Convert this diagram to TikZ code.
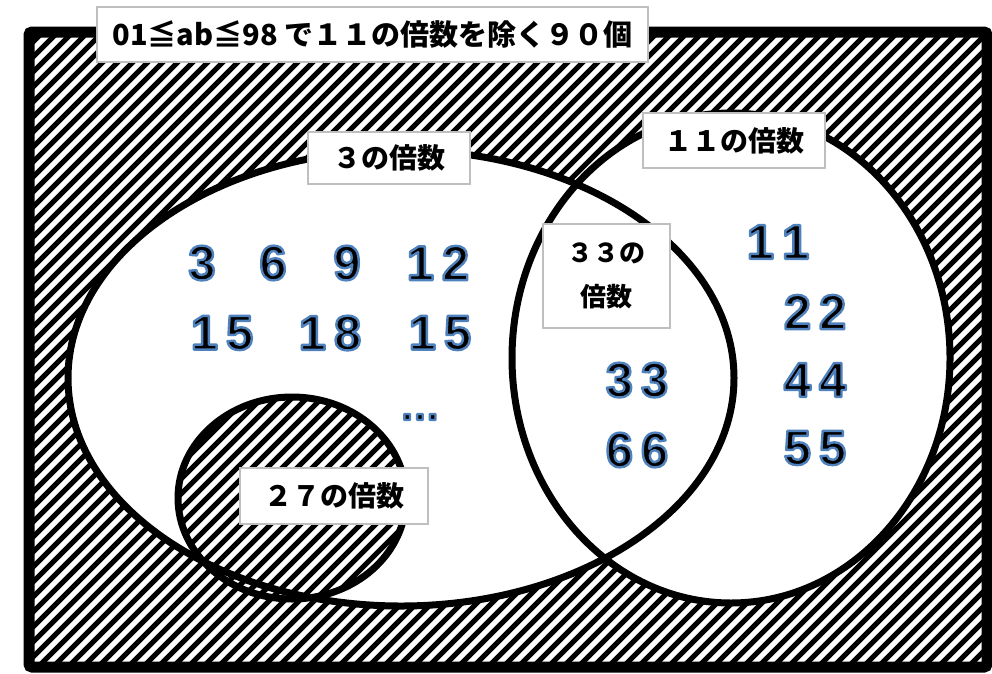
\documentclass[tikz,border=0pt]{standalone}
\usepackage{fontspec}
\setmainfont{Liberation Sans}
\newfontfamily\jp{Noto Sans CJK JP}
\definecolor{nblue}{RGB}{79,129,189}
\definecolor{boxgray}{RGB}{191,191,191}
\newcommand\otx[1]{%
  \special{pdf:literal direct 2 Tr 2.4 w 1 j 0.31 0.506 0.741 RG}%
  #1%
  \special{pdf:literal direct 0 Tr 0 0 0 RG 0 j 0.4 w}}
\newcommand\ls{\kern8pt}
\tikzset{
  hatchline/.style={line width=5pt, black},
  vline/.style={line width=7pt, black},
  lbl/.style={draw=boxgray, line width=1.8pt, fill=white, inner sep=0pt,
    font=\jp\bfseries\fontsize{28}{30}\selectfont},
  num/.style={inner sep=0pt, font=\bfseries\fontsize{49}{49}\selectfont},
}
\begin{document}
\begin{tikzpicture}[x=1pt,y=-1pt]
\useasboundingbox (0,0) rectangle (992,673);
% hatch everything inside the frame
\begin{scope}
  \clip (29,32) rectangle (987,667);
  \foreach \s in {0,15,...,1680} \draw[hatchline] (\s,0) -- (\s-680,680);
\end{scope}
% white sets
\fill[white] (401,378) ellipse [x radius=333pt, y radius=228pt];
\fill[white] (731,358) ellipse [x radius=219pt, y radius=245pt];
% hatch inside the 27 circle
\begin{scope}
  \clip (292,498) ellipse [x radius=114pt, y radius=101pt];
  \foreach \s in {540,555,...,1035} \draw[hatchline] (\s,0) -- (\s-680,680);
\end{scope}
% outlines
\draw[vline] (401,378) ellipse [x radius=333pt, y radius=228pt];
\draw[vline] (731,358) ellipse [x radius=219pt, y radius=245pt];
\draw[vline] (292,498) ellipse [x radius=114pt, y radius=101pt];
\draw[line width=11pt, rounded corners=3pt] (29,32) rectangle (987,667);
% numbers
\node[num] (n3)  at (202,263) {\otx{3}};
\node[num] (n6)  at (273,263) {\otx{6}};
\node[num] (n9)  at (347,263) {\otx{9}};
\node[num] (n12) at (438,263) {\otx{1\ls2}};
\node[num] (n15a) at (222,333) {\otx{1\ls5}};
\node[num] (n18) at (330,333) {\otx{1\ls8}};
\node[num] (n15b) at (440,333) {\otx{1\ls5}};
\node[inner sep=0pt, font=\bfseries\fontsize{40}{40}\selectfont] (dots) at (420,417) {\otx{…}};
\node[num] (n33) at (637,380) {\otx{3\ls3}};
\node[num] (n66) at (637,450) {\otx{6\ls6}};
\node[num] (n11) at (778,242) {\otx{1\ls1}};
\node[num] (n22) at (815,312) {\otx{2\ls2}};
\node[num] (n44) at (815,380) {\otx{4\ls4}};
\node[num] (n55) at (815,448) {\otx{5\ls5}};
% labels
\node[lbl, minimum width=551pt, minimum height=55pt, font=\jp\bfseries\fontsize{29}{30}\selectfont] (title) at (372.5,34.5) {01≦ab≦98 で１１の倍数を除く９０個};
\node[lbl, minimum width=162pt, minimum height=52pt] (l3) at (389,158) {３の倍数};
\node[lbl, minimum width=182pt, minimum height=55pt] (l11) at (734,140.5) {１１の倍数};
\node[lbl, minimum width=127pt, minimum height=104pt, align=center, font=\jp\bfseries\fontsize{26}{44}\selectfont] (l33) at (606.5,276) {３３の\\倍数};
\node[lbl, minimum width=188pt, minimum height=56pt] (l27) at (334,496) {２７の倍数};
\end{tikzpicture}
\end{document}
